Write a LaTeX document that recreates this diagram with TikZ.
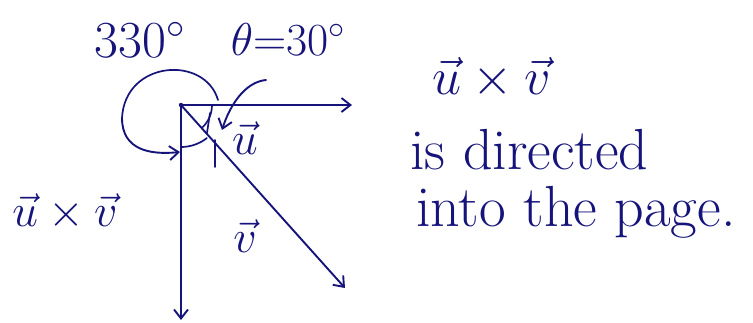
\RequirePackage{fix-cm}
\documentclass[tikz,border=0pt]{standalone}
\usetikzlibrary{arrows.meta}
\definecolor{ink}{RGB}{22,20,122}
\tikzset{
  vec/.style={ink, line width=1.9pt, line cap=round, -{Straight Barb[length=9pt,width=14pt]}},
  inkline/.style={ink, line width=1.7pt, line cap=round},
  lbl/.style={ink, inner sep=0pt, font=\fontsize{46}{46}\selectfont},
  txt/.style={ink, inner sep=0pt, anchor=west, font=\fontsize{58}{60}\selectfont}
}
\begin{document}
\begin{tikzpicture}[x=1pt,y=-1pt]
\useasboundingbox (0,0) rectangle (753,322);
% vectors
\coordinate (O) at (181,105);
\coordinate (U) at (352,105);
\coordinate (V) at (345,288);
\coordinate (W) at (181,320);
\fill[ink] (O) circle (2.2pt);
\draw[vec] (O) -- (U);
\draw[vec] (O) -- (V);
\draw[vec] (O) -- (W);
% 330 degree arc
\coordinate (a1) at (218,100);
\coordinate (a2) at (122,118);
\coordinate (a3) at (180,152);
\draw[inkline] (a1) .. controls (205,55) and (125,60) .. (a2);
\draw[vec] (a2) .. controls (122,150) and (150,155) .. (a3);
% theta pointer
\coordinate (t1) at (266,80);
\coordinate (t2) at (222,130);
\draw[vec] (t1) .. controls (245,82) and (230,105) .. (t2);
% small angle marks
\draw[inkline] (O) ++(0:31) arc[start angle=0,end angle=48,radius=31];
\draw[inkline] (O) ++(90:42) arc[start angle=90,end angle=52,radius=42];
\draw[inkline] (210,113) -- (207,133);
\draw[inkline] (215,140) -- (215,167);
% labels
\node[lbl, font=\fontsize{52}{52}\selectfont] (l330) at (140,40) {330$^\circ$};
\node[lbl] (lth) at (288,40) {$\theta$=30$^\circ$};
\node[lbl] (lu) at (245,138) {$\vec{u}$};
\node[lbl] (lv) at (245,236) {$\vec{v}$};
\node[lbl] (luv) at (65,212) {$\vec{u}\times\vec{v}$};
\node[txt, font=\fontsize{52}{52}\selectfont] (t0) at (432,78) {$\vec{u}\times\vec{v}$};
\node[txt] (t1n) at (410,150) {is directed};
\node[txt] (t2n) at (416,212) {into the page.};
\end{tikzpicture}
\end{document}
